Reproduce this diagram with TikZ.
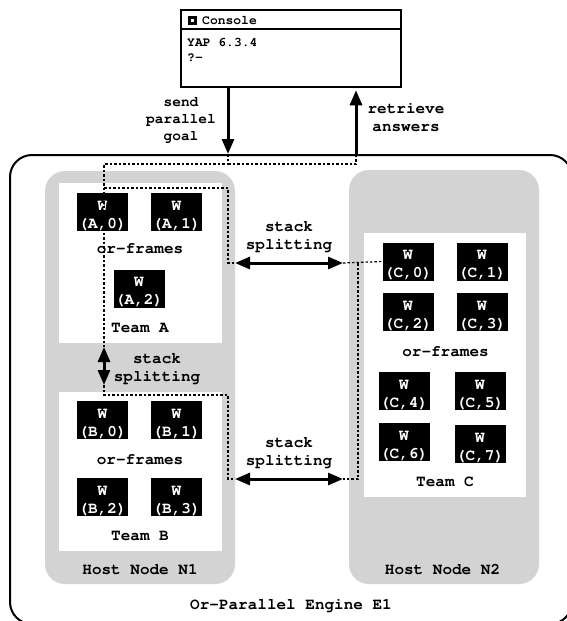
\documentclass[tikz,border=0pt]{standalone}
\usepackage[T1]{fontenc}
\usetikzlibrary{arrows.meta}
\definecolor{hostgray}{RGB}{211,211,211}
\newcommand{\cour}[2]{\fontfamily{pcr}\fontseries{b}\fontsize{#1}{#2}\selectfont}
\newcommand{\wlab}[1]{\rule{0pt}{16pt}W\\(#1)}
\begin{document}
\begin{tikzpicture}[x=1pt,y=-1pt,
  txt/.style={font=\cour{16}{18}, align=center, inner sep=0pt},
  smalltxt/.style={font=\cour{14.5}{17}, align=center, inner sep=0pt},
  contxt/.style={font=\cour{13}{15}, inner sep=0pt, anchor=west},
  wbox/.style={fill=black, text=white, minimum width=51pt, minimum height=38pt, inner sep=0pt,
    font=\cour{16}{18}, align=center},
  host/.style={fill=hostgray, rounded corners=20pt, inner sep=0pt},
  team/.style={fill=white, inner sep=0pt},
  bigarrow/.style={line width=3pt, -{Triangle[length=15pt,width=12pt]}},
  dblarrow/.style={line width=3pt, {Triangle[length=15pt,width=12pt]}-{Triangle[length=15pt,width=12pt]}},
  dots/.style={line width=1.2pt, dash pattern=on 2.5pt off 2pt}
]
\useasboundingbox (0,0) rectangle (566,621);

% outer engine box
\node[draw, line width=2pt, rounded corners=22pt, minimum width=562pt, minimum height=469pt, inner sep=0pt] (engine) at (291,389.5) {};

% host nodes
\node[host, minimum width=190pt, minimum height=413pt] (n1) at (140,377.5) {};
\node[host, minimum width=190pt, minimum height=414pt] (n2) at (444,377) {};

% teams
\node[team, minimum width=163pt, minimum height=160pt] (teamA) at (140.5,263) {};
\node[team, minimum width=163pt, minimum height=159pt] (teamB) at (140.5,471.5) {};
\node[team, minimum width=162pt, minimum height=264pt] (teamC) at (445,365) {};

% workers team A
\node[wbox] (a0) at (102.5,212) {\wlab{A,0}};
\node[wbox] (a1) at (176.5,212) {\wlab{A,1}};
\node[wbox] (a2) at (139,288.5) {\wlab{A,2}};
\node[txt] (orfA) at (140,249) {or-frames};
\node[txt] (tA) at (140,328) {Team A};

% workers team B
\node[wbox] (b0) at (102.5,420) {\wlab{B,0}};
\node[wbox] (b1) at (176.5,420) {\wlab{B,1}};
\node[wbox] (b2) at (102.5,497) {\wlab{B,2}};
\node[wbox] (b3) at (176.5,497) {\wlab{B,3}};
\node[txt] (orfB) at (140,460) {or-frames};
\node[txt] (tB) at (140,536) {Team B};
\node[txt] (hn1) at (140,570) {Host Node N1};

% workers team C
\node[wbox] (c0) at (408,261.5) {\wlab{C,0}};
\node[wbox] (c1) at (482,261.5) {\wlab{C,1}};
\node[wbox] (c2) at (408,312) {\wlab{C,2}};
\node[wbox] (c3) at (482,312) {\wlab{C,3}};
\node[txt] (orfC) at (445.5,352) {or-frames};
\node[wbox] (c4) at (404,391) {\wlab{C,4}};
\node[wbox] (c5) at (480,391) {\wlab{C,5}};
\node[wbox] (c6) at (404,442) {\wlab{C,6}};
\node[wbox] (c7) at (480,444) {\wlab{C,7}};
\node[txt] (tC) at (445,482) {Team C};
\node[txt] (hn2) at (442.5,570) {Host Node N2};

\node[txt] (eng) at (291,605) {Or-Parallel Engine E1};

% console
\node[draw, line width=2.5pt, minimum width=220pt, minimum height=77pt, inner sep=0pt] (console) at (291,48.5) {};
\draw[line width=2pt] ([yshift=-20pt]console.north west) -- ([yshift=-20pt]console.north east);
\node[fill=black, minimum size=9pt, inner sep=0pt] (icon) at (192.5,20.5) {};
\node[fill=white, minimum size=3.5pt, inner sep=0pt] (iconin) at (icon) {};
\node[contxt] (ctitle) at (202,20.5) {Console};
\node[contxt] (yap) at (187,43) {YAP 6.3.4};
\node[contxt] (prompt) at (187,58) {?-};

% labels
\node[smalltxt] (send) at (181,120) {send\\parallel\\goal};
\node[txt] (retr) at (406,117) {retrieve\\answers};
\node[txt] (ss1) at (289,236.5) {stack\\splitting};
\node[txt] (ss2) at (289,453) {stack\\splitting};
\node[txt] (ss3) at (157,369) {stack\\splitting};

% coordinates
\coordinate (sendx) at (228,0);
\coordinate (retx) at (356,0);
\coordinate (d1) at (228,164);
\coordinate (d2) at (356,164);
\coordinate (d3) at (104,164);
\coordinate (vtop) at (104,347);
\coordinate (vbot) at (104,385);
\coordinate (d4) at (104,188);
\coordinate (d5) at (228,188);
\coordinate (h1l) at (235,263);
\coordinate (h1r) at (343,263);
\coordinate (d6) at (228,263);
\coordinate (d7) at (104,395);
\coordinate (d8) at (228,395);
\coordinate (d9) at (228,479);
\coordinate (h2l) at (235,479);
\coordinate (h2r) at (343,479);
\coordinate (d10) at (358,263);
\coordinate (d11) at (358,479);

% dotted paths
\draw[dots] (sendx |- engine.north) -- (d1) -- (d3) -- (vtop);
\draw[dots] (d1) -- (d2) -- (retx |- engine.north);
\draw[dots] (d4) -- (d5) -- (d6) -- (h1l);
\draw[dots] (vbot) -- (d7) -- (d8) -- (d9) -- (h2l);
\draw[dots] (h1r) -- (c0.west);
\draw[dots] (d10) -- (d11) -- (h2r);

% arrows
\draw[bigarrow] (sendx |- console.south) -- (sendx |- engine.north);
\draw[bigarrow, shorten >=2pt] (retx |- engine.north) -- (retx |- console.south);
\draw[dblarrow] (h1l) -- (h1r);
\draw[dblarrow] (h2l) -- (h2r);
\draw[dblarrow] (vtop) -- (vbot);
\end{tikzpicture}
\end{document}
